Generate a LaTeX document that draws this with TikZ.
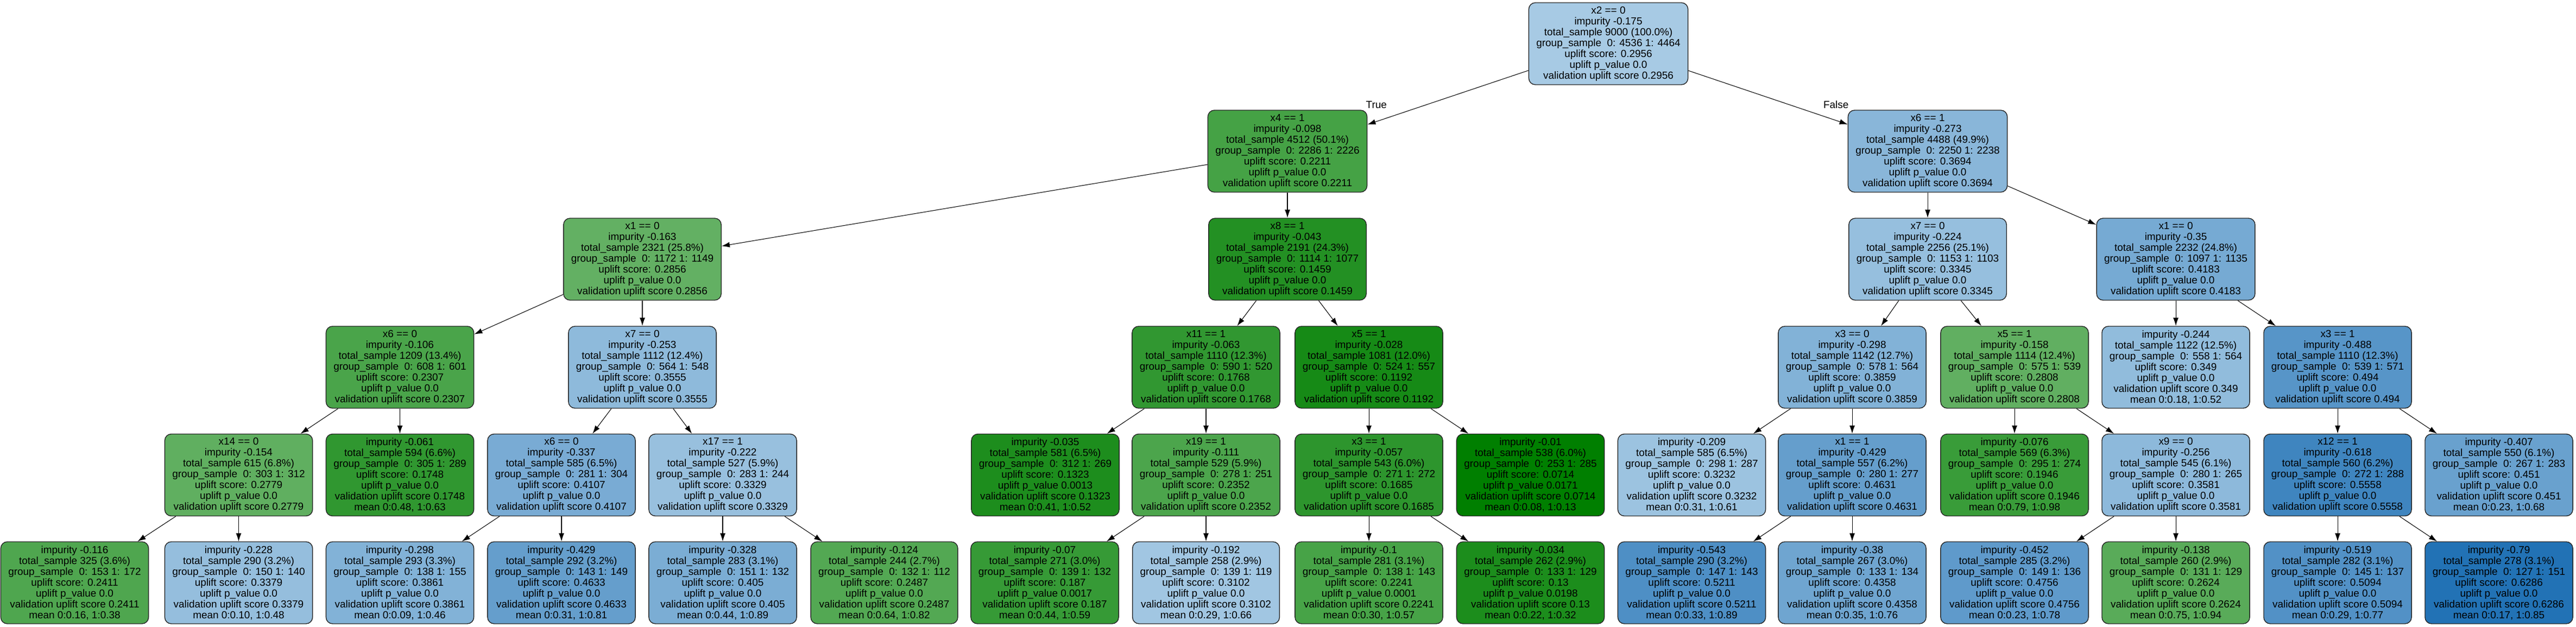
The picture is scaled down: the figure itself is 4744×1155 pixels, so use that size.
\documentclass[tikz,border=0pt]{standalone}
\usepackage{fontspec}
\setmainfont{Liberation Sans}
\usetikzlibrary{arrows.meta}
\definecolor{gdark}{HTML}{007F00}
\definecolor{glight}{HTML}{66B266}
\definecolor{blight}{HTML}{A8CBE4}
\definecolor{bdark}{HTML}{2171B5}
\newcommand{\splittext}[8]{#1\\impurity -#2\\total\_sample #3 (#4\%)\\group\_sample\ \ 0: #5 1: #6\\uplift score: #7\\uplift p\_value #8\\validation uplift score #7}
\newcommand{\leaftext}[9]{impurity -#1\\total\_sample #2 (#3\%)\\group\_sample\ \ 0: #4 1: #5\\uplift score: #6\\uplift p\_value #7\\validation uplift score #6\\mean 0:#8, 1:#9}

\begin{document}
\begin{tikzpicture}[x=0.02cm,y=-0.02cm,>={Latex[length=0.3cm,width=0.2cm]},
            box/.style={draw=black!85, line width=0.8pt, rounded corners=0.24cm, align=center,
                font=\fontsize{10.76pt}{11.38pt}\selectfont, minimum width=5.26cm, minimum height=3.02cm,
                inner xsep=0.28cm, inner ysep=0.1cm},
            score/.code={%
                \pgfmathtruncatemacro\isblue{#1>0.29}%
                \ifnum\isblue=1
                    \pgfmathtruncatemacro\mixpct{min(100,max(0,(#1-0.29)/0.34*100))}%
                    \colorlet{boxfill}{bdark!\mixpct!blight}%
                \else
                    \pgfmathtruncatemacro\mixpct{min(100,max(0,(#1-0.07)/0.22*100))}%
                    \colorlet{boxfill}{glight!\mixpct!gdark}%
                \fi
                \pgfkeysalso{fill=boxfill}},
            link/.style={->, line width=0.6pt},
            lbl/.style={font=\fontsize{10.76pt}{11.38pt}\selectfont, inner sep=0.04cm}]
            \useasboundingbox (0,0) rectangle (4744,1155);

            % root and first split
            \node[box, score=0.2956] (n) at (2962,80.5) {\splittext{x2 == 0}{0.175}{9000}{100.0}{4536}{4464}{0.2956}{0.0}};
            \node[box, score=0.2211] (nT) at (2371,278.5) {\splittext{x4 == 1}{0.098}{4512}{50.1}{2286}{2226}{0.2211}{0.0}};
            \node[box, score=0.3694] (nF) at (3550,278.5) {\splittext{x6 == 1}{0.273}{4488}{49.9}{2250}{2238}{0.3694}{0.0}};
            \node[lbl, anchor=south west, xshift=-0.1cm] (ltrue) at (nT.north east) {True};
            \node[lbl, anchor=south east, xshift=0.08cm] (lfalse) at (nF.north west) {False};

            % level 2
            \node[box, score=0.2856] (nTT) at (1183,477.5) {\splittext{x1 == 0}{0.163}{2321}{25.8}{1172}{1149}{0.2856}{0.0}};
            \node[box, score=0.1459] (nTF) at (2371,477.5) {\splittext{x8 == 1}{0.043}{2191}{24.3}{1114}{1077}{0.1459}{0.0}};
            \node[box, score=0.3345] (nFT) at (3550,477.5) {\splittext{x7 == 0}{0.224}{2256}{25.1}{1153}{1103}{0.3345}{0.0}};
            \node[box, score=0.4183] (nFF) at (4007,477.5) {\splittext{x1 == 0}{0.35}{2232}{24.8}{1097}{1135}{0.4183}{0.0}};

            % level 3
            \node[box, score=0.2307] (nTTT) at (736.5,676.5) {\splittext{x6 == 0}{0.106}{1209}{13.4}{608}{601}{0.2307}{0.0}};
            \node[box, score=0.3555] (nTTF) at (1183,676.5) {\splittext{x7 == 0}{0.253}{1112}{12.4}{564}{548}{0.3555}{0.0}};
            \node[box, score=0.1768] (nTFT) at (2221,676.5) {\splittext{x11 == 1}{0.063}{1110}{12.3}{590}{520}{0.1768}{0.0}};
            \node[box, score=0.1192] (nTFF) at (2521,676.5) {\splittext{x5 == 1}{0.028}{1081}{12.0}{524}{557}{0.1192}{0.0}};
            \node[box, score=0.3859] (nFTT) at (3411,676.5) {\splittext{x3 == 0}{0.298}{1142}{12.7}{578}{564}{0.3859}{0.0}};
            \node[box, score=0.2808] (nFTF) at (3710,676.5) {\splittext{x5 == 1}{0.158}{1114}{12.4}{575}{539}{0.2808}{0.0}};
            \node[box, score=0.349] (nFFT) at (4007,676.5) {\leaftext{0.244}{1122}{12.5}{558}{564}{0.349}{0.0}{0.18}{0.52}};
            \node[box, score=0.494] (nFFF) at (4305,676.5) {\splittext{x3 == 1}{0.488}{1110}{12.3}{539}{571}{0.494}{0.0}};

            % level 4
            \node[box, score=0.2779] (nTTTT) at (439.5,875) {\splittext{x14 == 0}{0.154}{615}{6.8}{303}{312}{0.2779}{0.0}};
            \node[box, score=0.1748] (nTTTF) at (736.5,875) {\leaftext{0.061}{594}{6.6}{305}{289}{0.1748}{0.0}{0.48}{0.63}};
            \node[box, score=0.4107] (nTTFT) at (1034,875) {\splittext{x6 == 0}{0.337}{585}{6.5}{281}{304}{0.4107}{0.0}};
            \node[box, score=0.3329] (nTTFF) at (1331,875) {\splittext{x17 == 1}{0.222}{527}{5.9}{283}{244}{0.3329}{0.0}};
            \node[box, score=0.1323] (nTFTT) at (1925,875) {\leaftext{0.035}{581}{6.5}{312}{269}{0.1323}{0.0013}{0.41}{0.52}};
            \node[box, score=0.2352] (nTFTF) at (2221,875) {\splittext{x19 == 1}{0.111}{529}{5.9}{278}{251}{0.2352}{0.0}};
            \node[box, score=0.1685] (nTFFT) at (2521,875) {\splittext{x3 == 1}{0.057}{543}{6.0}{271}{272}{0.1685}{0.0}};
            \node[box, score=0.0714] (nTFFF) at (2818.5,875) {\leaftext{0.01}{538}{6.0}{253}{285}{0.0714}{0.0171}{0.08}{0.13}};
            \node[box, score=0.3232] (nFTTT) at (3115.5,875) {\leaftext{0.209}{585}{6.5}{298}{287}{0.3232}{0.0}{0.31}{0.61}};
            \node[box, score=0.4631] (nFTTF) at (3411,875) {\splittext{x1 == 1}{0.429}{557}{6.2}{280}{277}{0.4631}{0.0}};
            \node[box, score=0.1946] (nFTFT) at (3710,875) {\leaftext{0.076}{569}{6.3}{295}{274}{0.1946}{0.0}{0.79}{0.98}};
            \node[box, score=0.3581] (nFTFF) at (4007,875) {\splittext{x9 == 0}{0.256}{545}{6.1}{280}{265}{0.3581}{0.0}};
            \node[box, score=0.5558] (nFFFT) at (4305,875) {\splittext{x12 == 1}{0.618}{560}{6.2}{272}{288}{0.5558}{0.0}};
            \node[box, score=0.451] (nFFFF) at (4602,875) {\leaftext{0.407}{550}{6.1}{267}{283}{0.451}{0.0}{0.23}{0.68}};

            % leaves
            \node[box, score=0.2411] (nTTTTT) at (137.5,1073.5) {\leaftext{0.116}{325}{3.6}{153}{172}{0.2411}{0.0}{0.16}{0.38}};
            \node[box, score=0.3379] (nTTTTF) at (439.5,1073.5) {\leaftext{0.228}{290}{3.2}{150}{140}{0.3379}{0.0}{0.10}{0.48}};
            \node[box, score=0.3861] (nTTFTT) at (736.5,1073.5) {\leaftext{0.298}{293}{3.3}{138}{155}{0.3861}{0.0}{0.09}{0.46}};
            \node[box, score=0.4633] (nTTFTF) at (1034,1073.5) {\leaftext{0.429}{292}{3.2}{143}{149}{0.4633}{0.0}{0.31}{0.81}};
            \node[box, score=0.405] (nTTFFT) at (1331,1073.5) {\leaftext{0.328}{283}{3.1}{151}{132}{0.405}{0.0}{0.44}{0.89}};
            \node[box, score=0.2487] (nTTFFF) at (1628.5,1073.5) {\leaftext{0.124}{244}{2.7}{132}{112}{0.2487}{0.0}{0.64}{0.82}};
            \node[box, score=0.187] (nTFTFT) at (1924,1073.5) {\leaftext{0.07}{271}{3.0}{139}{132}{0.187}{0.0017}{0.44}{0.59}};
            \node[box, score=0.3102] (nTFTFF) at (2221,1073.5) {\leaftext{0.192}{258}{2.9}{139}{119}{0.3102}{0.0}{0.29}{0.66}};
            \node[box, score=0.2241] (nTFFTT) at (2521,1073.5) {\leaftext{0.1}{281}{3.1}{138}{143}{0.2241}{0.0001}{0.30}{0.57}};
            \node[box, score=0.13] (nTFFTF) at (2818.5,1073.5) {\leaftext{0.034}{262}{2.9}{133}{129}{0.13}{0.0198}{0.22}{0.32}};
            \node[box, score=0.5211] (nFTTFT) at (3115.5,1073.5) {\leaftext{0.543}{290}{3.2}{147}{143}{0.5211}{0.0}{0.33}{0.89}};
            \node[box, score=0.4358] (nFTTFF) at (3411,1073.5) {\leaftext{0.38}{267}{3.0}{133}{134}{0.4358}{0.0}{0.35}{0.76}};
            \node[box, score=0.4756] (nFTFFT) at (3710,1073.5) {\leaftext{0.452}{285}{3.2}{149}{136}{0.4756}{0.0}{0.23}{0.78}};
            \node[box, score=0.2624] (nFTFFF) at (4007,1073.5) {\leaftext{0.138}{260}{2.9}{131}{129}{0.2624}{0.0}{0.75}{0.94}};
            \node[box, score=0.5094] (nFFFTT) at (4305,1073.5) {\leaftext{0.519}{282}{3.1}{145}{137}{0.5094}{0.0}{0.29}{0.77}};
            \node[box, score=0.6286] (nFFFTF) at (4602,1073.5) {\leaftext{0.79}{278}{3.1}{127}{151}{0.6286}{0.0}{0.17}{0.85}};

            % draw the splits
            \draw[link] (n) -- (nT);
            \draw[link] (n) -- (nF);
            \draw[link] (nT) -- (nTT);
            \draw[link] (nT) -- (nTF);
            \draw[link] (nF) -- (nFT);
            \draw[link] (nF) -- (nFF);
            \draw[link] (nTT) -- (nTTT);
            \draw[link] (nTT) -- (nTTF);
            \draw[link] (nTF) -- (nTFT);
            \draw[link] (nTF) -- (nTFF);
            \draw[link] (nFT) -- (nFTT);
            \draw[link] (nFT) -- (nFTF);
            \draw[link] (nFF) -- (nFFT);
            \draw[link] (nFF) -- (nFFF);
            \draw[link] (nTTT) -- (nTTTT);
            \draw[link] (nTTT) -- (nTTTF);
            \draw[link] (nTTF) -- (nTTFT);
            \draw[link] (nTTF) -- (nTTFF);
            \draw[link] (nTFT) -- (nTFTT);
            \draw[link] (nTFT) -- (nTFTF);
            \draw[link] (nTFF) -- (nTFFT);
            \draw[link] (nTFF) -- (nTFFF);
            \draw[link] (nFTT) -- (nFTTT);
            \draw[link] (nFTT) -- (nFTTF);
            \draw[link] (nFTF) -- (nFTFT);
            \draw[link] (nFTF) -- (nFTFF);
            \draw[link] (nFFF) -- (nFFFT);
            \draw[link] (nFFF) -- (nFFFF);
            \draw[link] (nTTTT) -- (nTTTTT);
            \draw[link] (nTTTT) -- (nTTTTF);
            \draw[link] (nTTFT) -- (nTTFTT);
            \draw[link] (nTTFT) -- (nTTFTF);
            \draw[link] (nTTFF) -- (nTTFFT);
            \draw[link] (nTTFF) -- (nTTFFF);
            \draw[link] (nTFTF) -- (nTFTFT);
            \draw[link] (nTFTF) -- (nTFTFF);
            \draw[link] (nTFFT) -- (nTFFTT);
            \draw[link] (nTFFT) -- (nTFFTF);
            \draw[link] (nFTTF) -- (nFTTFT);
            \draw[link] (nFTTF) -- (nFTTFF);
            \draw[link] (nFTFF) -- (nFTFFT);
            \draw[link] (nFTFF) -- (nFTFFF);
            \draw[link] (nFFFT) -- (nFFFTT);
            \draw[link] (nFFFT) -- (nFFFTF);
        \end{tikzpicture}
\end{document}
